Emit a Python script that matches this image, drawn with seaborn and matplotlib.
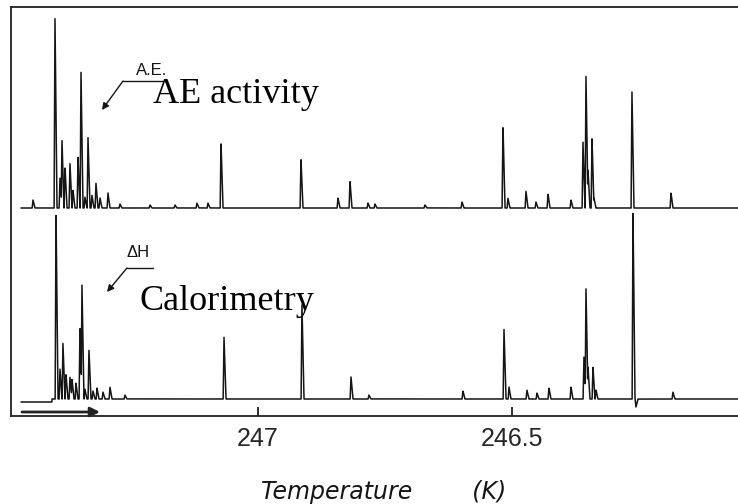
import numpy as np
import pandas as pd
import matplotlib
matplotlib.use("Agg")
import matplotlib.pyplot as plt
import seaborn as sns

# Acoustic emission (A.E.) trace: peak temperatures (K) and heights (arb. units)
ae_T = [247.4429, 247.3996, 247.3898, 247.3858, 247.3799, 247.3701, 247.3642,
        247.3543, 247.3484, 247.3406, 247.3346, 247.3268, 247.3189, 247.3110,
        247.2953, 247.2717, 247.2126, 247.1634, 247.1201, 247.0984, 247.0728,
        246.9154, 246.8425, 246.8189, 246.7835, 246.7697, 246.6713, 246.5984,
        246.5177, 246.5079, 246.4724, 246.4528, 246.4291, 246.3839, 246.3602,
        246.3543, 246.3504, 246.3425, 246.3386, 246.2638, 246.1870]
ae_h = [8, 190, 30, 68, 41, 45, 18,
        51, 136, 11, 71, 13, 25, 10,
        15, 4, 3, 3, 5, 5, 65,
        49, 10, 27, 5, 4, 3, 6,
        82, 10, 17, 6, 14, 8, 66,
        135, 38, 70, 10, 118, 15]

# Calorimetric (ΔH) trace: peak temperatures (K) and heights (arb. units)
dh_T = [247.3976, 247.3898, 247.3839, 247.3780, 247.3701, 247.3661, 247.3583,
        247.3504, 247.3465, 247.3406, 247.3327, 247.3248, 247.3169, 247.3051,
        247.2913, 247.2618, 247.0669, 246.9134, 246.8169, 246.7815, 246.5965,
        246.5157, 246.5059, 246.4705, 246.4508, 246.4272, 246.3839, 246.3583,
        246.3543, 246.3504, 246.3406, 246.3346, 246.2618, 246.2559, 246.1831]
dh_h = [186, 30, 56, 25, 22, 20, 16,
        72, 114, 10, 49, 8, 11, 7,
        12, 4, 62, 96, 22, 4, 8,
        70, 12, 9, 6, 11, 12, 42,
        113, 32, 32, 9, 187, -8, 7]

# Vertical offsets of the two recordings and the calorimeter baseline before onset
ae_offset = 208
dh_offset = 17
dh_onset_T = 247.4055
dh_pre_onset = -3

tick_values = [247.0, 246.5]
tick_labels = ["247", "246.5"]

T_start, T_end = 247.4665, 246.04
T_left, T_right = 247.4862, 246.0413


def trace(T, peaks_T, peaks_h, rise=0.0016, fall=0.004):
    pos = np.zeros_like(T)
    neg = np.zeros_like(T)
    for t0, h in zip(peaks_T, peaks_h):
        d = t0 - T
        shape = np.where(d >= 0, 1 - d / fall, 1 + d / rise)
        shape = np.clip(shape, 0, None) * h
        pos = np.maximum(pos, shape)
        neg = np.minimum(neg, shape)
    return pos + neg


T = np.linspace(T_start, T_end, 9000)
ae = ae_offset + trace(T, ae_T, ae_h)
dh = dh_offset + trace(T, dh_T, dh_h) + np.where(T > dh_onset_T, dh_pre_onset, 0)
df = pd.DataFrame({"T": T, "ae": ae, "dh": dh})

sns.set_style("white")
plt.rcParams["font.family"] = ["Liberation Sans", "DejaVu Sans"]

fig = plt.figure(figsize=(7.38, 5.04), dpi=100)
ax = fig.add_axes([11 / 738, 88 / 504, 734 / 738, 409 / 504])

ink = "#151515"
sns.lineplot(data=df, x="T", y="ae", ax=ax, color=ink, lw=1.1, estimator=None)
sns.lineplot(data=df, x="T", y="dh", ax=ax, color=ink, lw=1.1, estimator=None)

ax.set_xlim(T_left, T_right)
ax.set_ylim(0, 409)

for side in ["left", "top", "bottom", "right"]:
    ax.spines[side].set_color("#202020")
    ax.spines[side].set_linewidth(1.3)

ax.set_xticks(tick_values)
ax.set_xticklabels(tick_labels, fontsize=18, family=["Liberation Sans", "DejaVu Sans"])
ax.set_yticks([])
ax.tick_params(axis="x", direction="in", length=6.5, width=1.3, pad=8,
               color="#202020", bottom=True, top=False)

ax.set_xlabel("Temperature        (K)", fontsize=17, style="italic",
              family=["DejaVu Sans"], color="#151515")
ax.xaxis.set_label_coords(0.5075, -0.1565)
ax.set_ylabel("")

# Scan direction arrow
ax.annotate("", xy=(247.311, 4), xytext=(247.4646, 4),
            arrowprops=dict(arrowstyle="-|>", lw=2.0, color="#222222",
                            mutation_scale=14, shrinkA=0, shrinkB=0))

# Leader for the A.E. trace
ax.plot([247.187, 247.2657], [335, 335], color=ink, lw=1.0)
ax.annotate("", xy=(247.3071, 306), xytext=(247.2657, 335),
            arrowprops=dict(arrowstyle="-|>", lw=1.0, color=ink,
                            mutation_scale=10, shrinkA=0, shrinkB=0))
ax.text(247.2087, 338, "A.E.", fontsize=12, ha="center", va="bottom", color=ink)

# Leader for the ΔH trace
ax.plot([247.2067, 247.2579], [148, 148], color=ink, lw=1.0)
ax.annotate("", xy=(247.2972, 124), xytext=(247.2579, 148),
            arrowprops=dict(arrowstyle="-|>", lw=1.0, color=ink,
                            mutation_scale=10, shrinkA=0, shrinkB=0))
ax.text(247.2362, 156, "ΔH", fontsize=12, ha="center", va="bottom", color=ink)

# Trace names
ax.text(247.2067, 313, "AE activity", fontsize=26, family=["Liberation Serif"],
        ha="left", va="baseline", color="black")
ax.text(247.2323, 106, "Calorimetry", fontsize=26, family=["Liberation Serif"],
        ha="left", va="baseline", color="black")

fig.savefig("out.png", dpi=100)
